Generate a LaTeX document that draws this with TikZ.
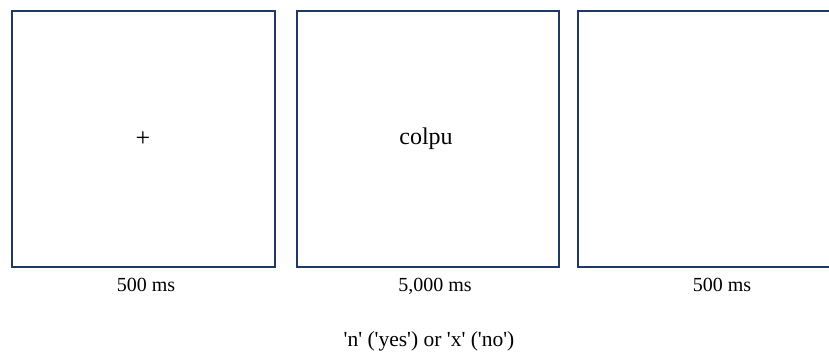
\documentclass[tikz,border=0pt]{standalone}
\usepackage{fontspec}
\setmainfont{Liberation Serif}
\definecolor{boxline}{HTML}{1F3864}
\newcommand{\sq}{\textquotesingle}
\begin{document}
\begin{tikzpicture}[x=1pt,y=1pt,
  screen/.style={draw=boxline,line width=2pt,fill=white,minimum width=263pt,minimum height=256pt,inner sep=0pt,outer sep=0pt},
  lbl/.style={font=\fontsize{20}{24}\selectfont,anchor=base,inner sep=0pt},
  stim/.style={font=\fontsize{24}{28}\selectfont,inner sep=0pt}]
\useasboundingbox (0,0) rectangle (829,356);
\clip (0,0) rectangle (829,356);
\node[screen] (s1) at (143.5,217) {};
\node[screen,minimum width=262pt] (s2) at (428,217) {};
\node[screen] (s3) at (709.5,217) {};
\node[stim,font=\fontsize{26}{30}\selectfont] (fix) at (143,217) {+};
\node[stim] (word) at (426,217) {colpu};
\node[lbl] (t1) at (146,65) {500 ms};
\node[lbl] (t2) at (435,65) {5,000 ms};
\node[lbl] (t3) at (722,65) {500 ms};
\node[lbl,font=\fontsize{21.5}{26}\selectfont] (resp) at (429,10) {\sq n\sq{} (\sq yes\sq) or \sq x\sq{} (\sq no\sq)};
\end{tikzpicture}
\end{document}
